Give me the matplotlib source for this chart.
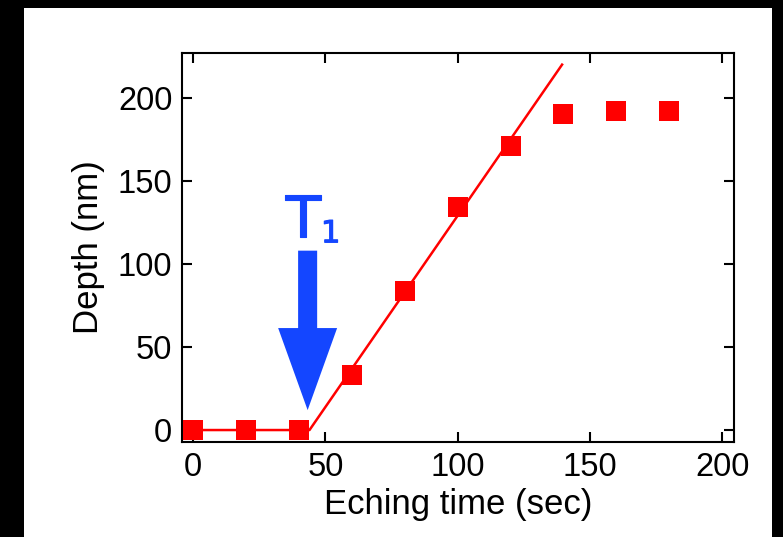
import matplotlib
matplotlib.use("Agg")
import matplotlib.pyplot as plt
import matplotlib.patheffects as pe
from matplotlib.patches import Rectangle, FancyArrow

# Data
time_s = [0, 20, 40, 60, 80, 100, 120, 140, 160, 180]
depth_nm = [0, 0, 0, 33, 84, 134, 171, 190, 192, 192]
fit_x = [0, 44, 139.5]
fit_y = [0, 0, 220]
xticks = [0, 50, 100, 150, 200]
yticks = [0, 50, 100, 150, 200]

plt.rcParams['font.family'] = ['Liberation Sans', 'DejaVu Sans']

fig = plt.figure(figsize=(7.83, 5.37), dpi=100)
fig.patch.set_facecolor('black')
fig.patches.append(Rectangle((24 / 783, 0), (772 - 24) / 783, (537 - 8) / 537,
                             transform=fig.transFigure, facecolor='white',
                             edgecolor='none', zorder=-10))

ax = fig.add_axes([182 / 783, 95 / 537, (734 - 182) / 783, (442 - 53) / 537])
ax.set_zorder(5)
ax.set_facecolor('white')

ax.plot(fit_x, fit_y, color='red', lw=1.8, zorder=2)
ax.plot(time_s, depth_nm, linestyle='none', marker='s', markersize=14.5,
        color='red', markeredgewidth=0, zorder=3)

blue = '#1446ff'
ax.add_patch(FancyArrow(43.3, 108, 0, -96, width=7.2, head_width=22.3,
                        head_length=49.4, length_includes_head=True,
                        color=blue, lw=0, zorder=4))
stroke = [pe.withStroke(linewidth=0.8, foreground=blue)]
ax.text(41.5, 116, 'T', color=blue, fontsize=42, ha='center',
        va='baseline', family='DejaVu Sans', path_effects=stroke)
ax.text(52.0, 113, '1', color=blue, fontsize=22, ha='center',
        va='baseline', family='DejaVu Sans', path_effects=stroke)

ax.set_xlim(-4.2, 204.5)
ax.set_ylim(-7.2, 227)
ax.set_xticks(xticks)
ax.set_yticks(yticks)
ax.tick_params(direction='in', length=7, width=1.5, labelsize=23.5, pad=7,
               top=True, right=True)
for s in ax.spines.values():
    s.set_linewidth(1.5)

ax.set_xlabel('Eching time (sec)', fontsize=25, labelpad=4)
ax.set_ylabel('Depth (nm)', fontsize=25, labelpad=9)

fig.savefig('out.png', dpi=100, facecolor=fig.get_facecolor())
